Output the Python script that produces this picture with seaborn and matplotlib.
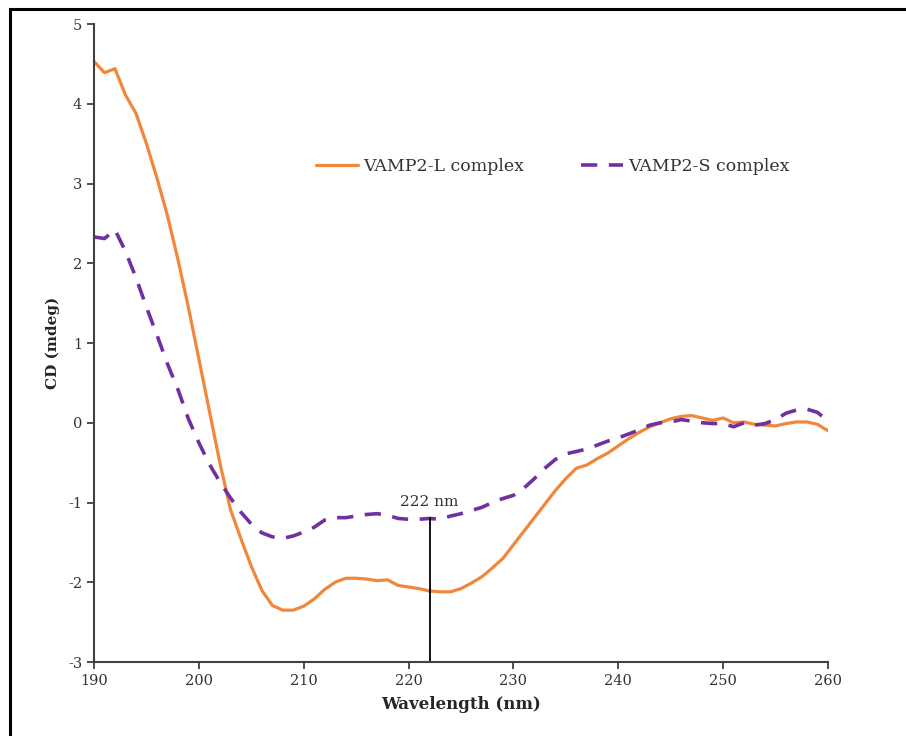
import numpy as np
import pandas as pd
import matplotlib
matplotlib.use("Agg")
import matplotlib.pyplot as plt
import matplotlib.patches as mpatches
import seaborn as sns

wavelength = list(range(190, 261))

vamp2_l = [4.53, 4.39, 4.44, 4.11, 3.88, 3.50, 3.07, 2.60, 2.05, 1.45,
           0.80, 0.15, -0.50, -1.08, -1.45, -1.80, -2.10, -2.29, -2.35, -2.35,
           -2.30, -2.21, -2.09, -2.00, -1.95, -1.95, -1.96, -1.98, -1.97, -2.04,
           -2.06, -2.08, -2.11, -2.12, -2.12, -2.08, -2.01, -1.93, -1.82, -1.70,
           -1.53, -1.36, -1.19, -1.02, -0.85, -0.70, -0.57, -0.53, -0.45, -0.38,
           -0.29, -0.20, -0.12, -0.05, 0.00, 0.05, 0.08, 0.09, 0.06, 0.03,
           0.06, 0.00, 0.01, -0.02, -0.03, -0.04, -0.01, 0.01, 0.01, -0.02,
           -0.10]

vamp2_s = [2.33, 2.31, 2.42, 2.15, 1.82, 1.45, 1.10, 0.74, 0.42, 0.05,
           -0.25, -0.52, -0.74, -0.94, -1.12, -1.27, -1.38, -1.43, -1.45, -1.42,
           -1.37, -1.31, -1.22, -1.19, -1.19, -1.17, -1.15, -1.14, -1.16, -1.20,
           -1.21, -1.21, -1.20, -1.21, -1.17, -1.14, -1.10, -1.06, -1.00, -0.95,
           -0.91, -0.82, -0.70, -0.57, -0.46, -0.39, -0.36, -0.33, -0.28, -0.23,
           -0.19, -0.14, -0.09, -0.03, 0.00, 0.01, 0.04, 0.02, 0.00, -0.01,
           -0.01, -0.05, 0.00, -0.03, -0.01, 0.04, 0.12, 0.16, 0.17, 0.13,
           0.02]

series_names = ["VAMP2-L complex", "VAMP2-S complex"]
x_ticks = [190, 200, 210, 220, 230, 240, 250, 260]
y_ticks = [-3, -2, -1, 0, 1, 2, 3, 4, 5]
marker_nm = 222
marker_label = "222 nm"

sns.set_theme(style="ticks")
plt.rcParams['font.family'] = ['DejaVu Serif']
plt.rcParams['axes.unicode_minus'] = False

fig = plt.figure(figsize=(9.06, 7.36), dpi=100)
ax = fig.add_axes([94/906, 1-662/736, (828-94)/906, (662-24)/736])

df_l = pd.DataFrame({"Wavelength": wavelength, "CD": vamp2_l})
df_s = pd.DataFrame({"Wavelength": wavelength, "CD": vamp2_s})

orange = "#F0873A"
purple = "#7030A0"

sns.lineplot(data=df_l, x="Wavelength", y="CD", ax=ax, color=orange,
             linewidth=2.3, label=series_names[0])
sns.lineplot(data=df_s, x="Wavelength", y="CD", ax=ax, color=purple,
             linewidth=2.6, label=series_names[1])
ax.lines[1].set_dashes([4.5, 3.2])

# 222 nm marker
y222 = vamp2_s[wavelength.index(marker_nm)]
ax.plot([marker_nm, marker_nm], [-3, y222], color="black", linewidth=1.3)
ax.text(marker_nm, y222 + 0.12, marker_label, ha="center", va="bottom",
        fontsize=11, color="#333333")

ax.set_xlim(190, 260)
ax.set_ylim(-3, 5)
ax.set_xticks(x_ticks)
ax.set_yticks(y_ticks)
ax.set_xlabel("Wavelength (nm)", fontsize=12, fontweight="bold", labelpad=6)
ax.set_ylabel("CD (mdeg)", fontsize=11, fontweight="bold", labelpad=6)
ax.tick_params(axis="both", labelsize=10.5, length=5, width=1.3, color="#404040",
               labelcolor="#333333", direction="out")
for s in ["left", "bottom"]:
    ax.spines[s].set_linewidth(1.5)
    ax.spines[s].set_color("#404040")
sns.despine(ax=ax)

leg = ax.legend(loc="center", bbox_to_anchor=(0.625, 0.776), ncol=2, frameon=False,
                fontsize=12.5, handlelength=2.4, columnspacing=3.3, handletextpad=0.3)
for t in leg.get_texts():
    t.set_color("#333333")

# outer frame (partially cropped)
rect = mpatches.Rectangle((10/906, -0.1), 1.2, 1.1 - 9/736, transform=fig.transFigure,
                          fill=False, edgecolor="black", linewidth=2.2, clip_on=False)
fig.patches.append(rect)

fig.savefig("out.png", dpi=100)
